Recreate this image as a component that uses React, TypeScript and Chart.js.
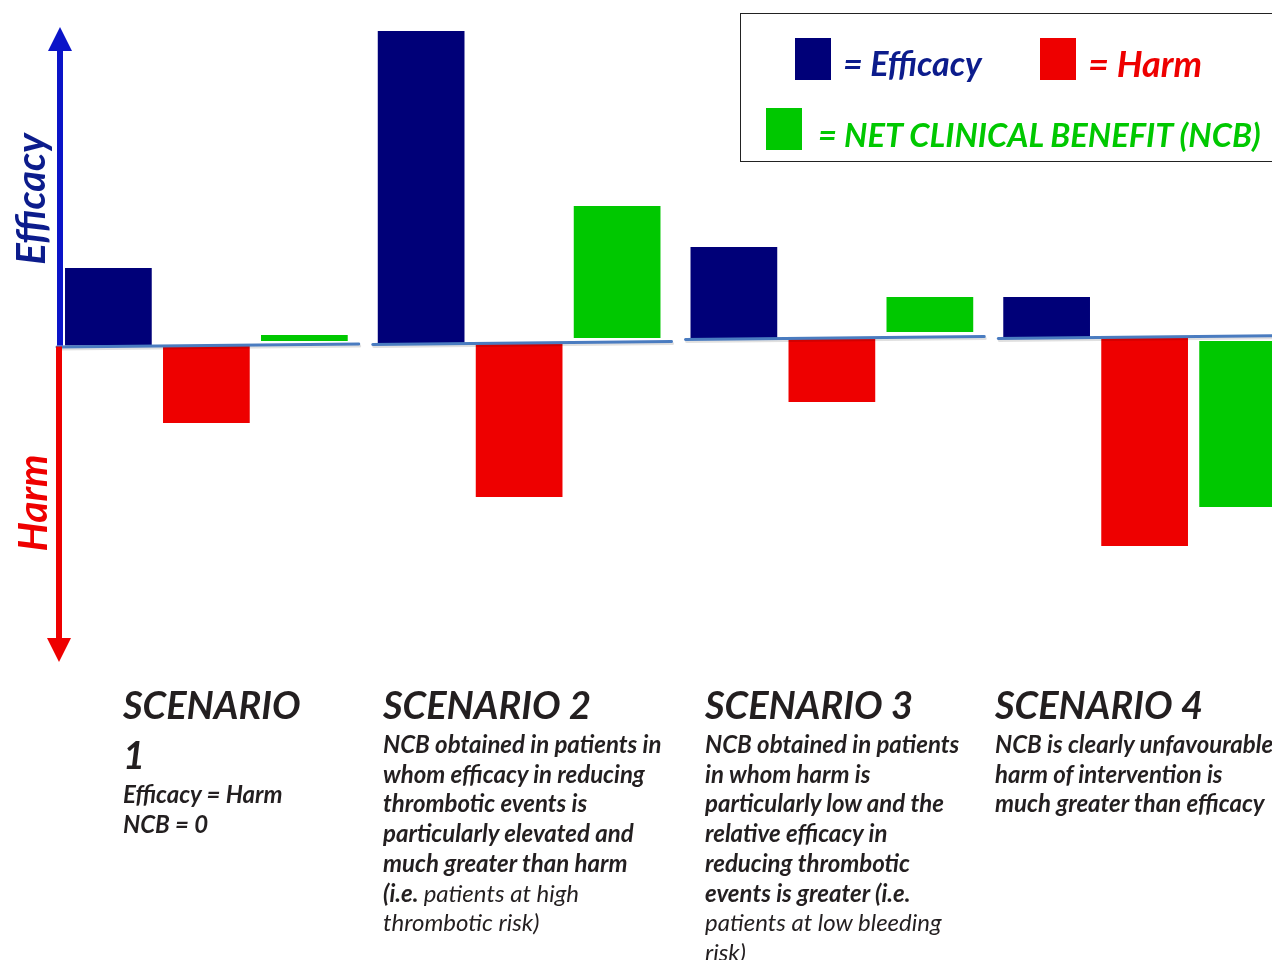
import React, { useEffect, useRef } from "react";
import { Chart, registerables } from "chart.js";

Chart.register(...registerables);

// ---- data (units: arbitrary) ----
const scenarios = ["SCENARIO 1", "SCENARIO 2", "SCENARIO 3", "SCENARIO 4"];
// reference level (zero line) of each scenario's panel
const baselines = [-0.25, 0, 0.5, 0.6];
// heights measured from each scenario's own baseline
const efficacy = [7.75, 31.2, 9.1, 4.0];
const harm = [-7.75, -15.4, -6.4, -20.9];
// NCB bars, as [from, to]
const ncb: [number, number][] = [
  [0.2, 0.8],
  [0.5, 13.7],
  [1.1, 4.6],
  [0.2, -16.4],
];
const yMin = -33.7;
const yMax = 34.3;

const headings = [["SCENARIO", "1"], ["SCENARIO 2"], ["SCENARIO 3"], ["SCENARIO 4"]];
// each line: array of [text, bold]
const bodies: [string, boolean][][][] = [
  [[["Efficacy = Harm", true]], [["NCB = 0", true]]],
  [
    [["NCB obtained in patients in", true]],
    [["whom efficacy in reducing", true]],
    [["thrombotic events is", true]],
    [["particularly elevated and", true]],
    [["much greater than harm", true]],
    [["(i.e. ", true], ["patients at high", false]],
    [["thrombotic risk)", false]],
  ],
  [
    [["NCB obtained in patients", true]],
    [["in whom harm is", true]],
    [["particularly low and the", true]],
    [["relative efficacy in", true]],
    [["reducing thrombotic", true]],
    [["events is greater (i.e.", true]],
    [["patients at low bleeding", false]],
    [["risk)", false]],
  ],
  [
    [["NCB is clearly unfavourable:", true]],
    [["harm of intervention is", true]],
    [["much greater than efficacy", true]],
  ],
];
const columnLeft = [123, 383, 705, 995];

const NAVY = "#000078";
const RED = "#ee0000";
const GREEN = "#00c800";
const FONT = "Lato, 'Open Sans', sans-serif";

const efficacyData = efficacy.map((v, i) => [baselines[i], baselines[i] + v]);
const harmData = harm.map((v, i) => [baselines[i], baselines[i] + v]);

const overlay = {
  id: "overlay",
  afterDatasetsDraw(chart: any) {
    const { ctx, chartArea, scales } = chart;
    const xs = scales.x;
    const ys = scales.y;
    const zero = ys.getPixelForValue(0);
    const half = (xs.getPixelForValue(1) - xs.getPixelForValue(0)) / 2;
    ctx.save();
    // baseline segments per scenario
    for (let i = 0; i < scenarios.length; i++) {
      const c = xs.getPixelForValue(i);
      const b = ys.getPixelForValue(baselines[i]);
      const x0 = c - half + (i === 0 ? 7 : 10);
      const x1 = c + half - 4;
      ctx.lineCap = "round";
      ctx.strokeStyle = "rgba(0,0,0,0.12)";
      ctx.lineWidth = 3;
      ctx.beginPath();
      ctx.moveTo(x0 + 1, b + 3.5);
      ctx.lineTo(x1 + 1, b + 0.5);
      ctx.stroke();
      ctx.strokeStyle = "#4a7cc0";
      ctx.lineWidth = 3;
      ctx.beginPath();
      ctx.moveTo(x0, b + 1.5);
      ctx.lineTo(x1, b - 1.5);
      ctx.stroke();
    }
    // axis arrows
    const ax = 60;
    const top = chartArea.top;
    const z = ys.getPixelForValue(baselines[0]);
    // efficacy arrow (up)
    ctx.fillStyle = "#0a14c8";
    ctx.fillRect(ax - 3, top + 48, 6, z - (top + 48));
    ctx.beginPath();
    ctx.moveTo(ax - 12, top + 51);
    ctx.lineTo(ax + 12, top + 51);
    ctx.lineTo(ax, top + 27);
    ctx.closePath();
    ctx.fill();
    // harm arrow (down)
    ctx.fillStyle = RED;
    ctx.fillRect(ax - 4, z + 1, 6, top + 640 - z);
    ctx.beginPath();
    ctx.moveTo(ax - 13, top + 638);
    ctx.lineTo(ax + 11, top + 638);
    ctx.lineTo(ax - 1, top + 662);
    ctx.closePath();
    ctx.fill();
    ctx.restore();
  },
};

function ChartCanvas() {
  const ref = useRef<HTMLCanvasElement | null>(null);
  useEffect(() => {
    if (!ref.current) return;
    const chart = new Chart(ref.current, {
      type: "bar",
      data: {
        labels: scenarios,
        datasets: [
          { label: "Efficacy", data: efficacyData as any, backgroundColor: NAVY, borderWidth: 0 },
          { label: "Harm", data: harmData as any, backgroundColor: RED, borderWidth: 0 },
          { label: "Net clinical benefit (NCB)", data: ncb as any, backgroundColor: GREEN, borderWidth: 0 },
        ],
      },
      options: {
        responsive: false,
        animation: false,
        devicePixelRatio: 1,
        layout: { padding: { left: 50, right: 0, top: 0, bottom: 0 } },
        datasets: { bar: { categoryPercentage: 0.94, barPercentage: 0.885 } },
        plugins: { legend: { display: false }, tooltip: { enabled: false } },
        scales: {
          x: { display: false, grid: { display: false } },
          y: { display: false, min: yMin, max: yMax, grid: { display: false } },
        },
      },
      plugins: [overlay],
    });
    return () => chart.destroy();
  }, []);
  return (
    <canvas
      ref={ref}
      width={1301}
      height={680}
      style={{ position: "absolute", left: 0, top: 0, width: 1301, height: 680 }}
    />
  );
}

export default function App() {
  useEffect(() => {
    document.body.style.margin = "0";
    document.body.style.overflow = "hidden";
  }, []);
  const txt = "#231f20";
  const rot = (color: string, left: number, top: number, size: number, text: string) => (
    <div
      style={{
        position: "absolute",
        left,
        top,
        transform: "translate(-50%,-50%) rotate(-90deg)",
        color,
        fontWeight: 700,
        fontStyle: "italic",
        fontSize: size,
        whiteSpace: "nowrap",
        lineHeight: 1,
      }}
    >
      {text}
    </div>
  );
  const legText = (color: string, left: number, top: number, size: number, text: string) => (
    <div
      style={{
        position: "absolute",
        left,
        top,
        transform: "translateY(-50%)",
        color,
        fontWeight: 700,
        fontStyle: "italic",
        fontSize: size,
        whiteSpace: "nowrap",
        lineHeight: 1,
      }}
    >
      {text}
    </div>
  );
  return (
    <div
      style={{
        position: "absolute",
        left: 0,
        top: 0,
        width: 1272,
        height: 960,
        overflow: "hidden",
        background: "#fff",
        fontFamily: FONT,
      }}
    >
      <ChartCanvas />
      {rot("#0c1c8c", 30, 199, 40, "Efficacy")}
      {rot(RED, 31, 503, 41, "Harm")}
      {/* legend */}
      <div
        style={{
          position: "absolute",
          left: 740,
          top: 13,
          width: 560,
          height: 149,
          border: "1.5px solid #222",
          boxSizing: "border-box",
        }}
      />
      <div style={{ position: "absolute", left: 795, top: 38, width: 36, height: 42, background: NAVY }} />
      <div style={{ position: "absolute", left: 1040, top: 38, width: 36, height: 42, background: RED }} />
      <div style={{ position: "absolute", left: 766, top: 108, width: 36, height: 42, background: GREEN }} />
      {legText("#0c1c8c", 843, 63, 34, "= Efficacy")}
      {legText(RED, 1088, 63, 36, "= Harm")}
      {legText(GREEN, 818, 135, 32.6, "= NET CLINICAL BENEFIT (NCB)")}
      {/* scenario texts */}
      {scenarios.map((s, i) => (
        <div
          key={s}
          style={{
            position: "absolute",
            left: columnLeft[i],
            top: 679,
            color: txt,
            fontStyle: "italic",
            whiteSpace: "nowrap",
          }}
        >
          {headings[i].map((h, k) => (
            <div key={k} style={{ fontSize: 38, fontWeight: 700, lineHeight: "50px" }}>
              {h}
            </div>
          ))}
          {bodies[i].map((line, k) => (
            <div key={k} style={{ fontSize: 24, lineHeight: "29.7px" }}>
              {line.map(([t, b], j) => (
                <span key={j} style={{ fontWeight: b ? 700 : 400 }}>
                  {t}
                </span>
              ))}
            </div>
          ))}
        </div>
      ))}
    </div>
  );
}
